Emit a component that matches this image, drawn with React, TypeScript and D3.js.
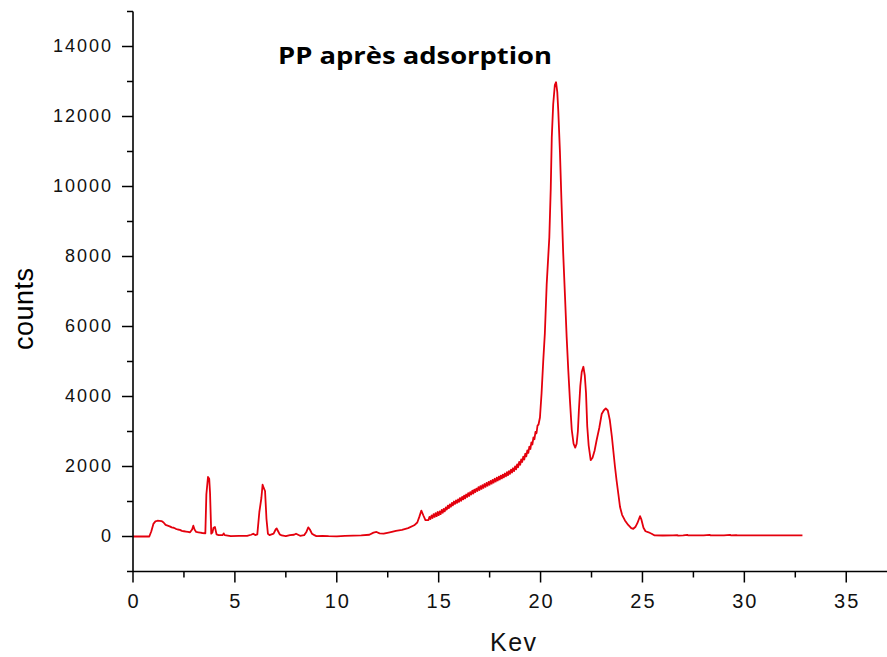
import React from "react";
import * as d3 from "d3";

const KEV = [
  0, 0.8, 0.9, 1.0, 1.1, 1.2, 1.3, 1.4, 1.5, 1.6, 1.7, 1.8, 1.9, 2.0, 2.1, 2.2, 2.3, 2.4, 2.5, 2.6, 2.7, 2.8,
  2.9, 2.96, 3.02, 3.1, 3.2, 3.3, 3.4, 3.55, 3.6, 3.68, 3.74, 3.78, 3.84, 3.9, 3.95, 4.02, 4.1, 4.2, 4.4, 4.45,
  4.5, 4.8, 5.2, 5.6, 5.8, 5.9, 6.0, 6.1, 6.2, 6.3, 6.36, 6.42, 6.48, 6.55, 6.62, 6.7, 6.9, 7.0, 7.05, 7.12,
  7.2, 7.3, 7.5, 7.7, 7.9, 8.0, 8.1, 8.2, 8.4, 8.5, 8.6, 8.68, 8.78, 8.9, 9.0, 9.3, 9.6, 10.0, 10.4, 10.8,
  11.2, 11.6, 11.8, 11.95, 12.1, 12.3, 12.6, 12.9, 13.2, 13.5, 13.8, 13.95, 14.05, 14.15, 14.25, 14.35,
  14.5, 14.55, 14.6, 14.65, 14.7, 14.75, 14.8, 14.85, 14.9, 14.95, 15.0, 15.05, 15.1, 15.15, 15.2, 15.25,
  15.3, 15.35, 15.4, 15.45, 15.5, 15.55, 15.6, 15.65, 15.7, 15.75, 15.8, 15.85, 15.9, 15.95, 16.0, 16.05,
  16.1, 16.15, 16.2, 16.25, 16.3, 16.35, 16.4, 16.45, 16.5, 16.55, 16.6, 16.65, 16.7, 16.75, 16.8, 16.85,
  16.9, 16.95, 17.0, 17.05, 17.1, 17.15, 17.2, 17.25, 17.3, 17.35, 17.4, 17.45, 17.5, 17.55, 17.6, 17.65,
  17.7, 17.75, 17.8, 17.85, 17.9, 17.95, 18.0, 18.05, 18.1, 18.15, 18.2, 18.25, 18.3, 18.35, 18.4, 18.45,
  18.5, 18.55, 18.6, 18.65, 18.7, 18.75, 18.8, 18.85, 18.9, 18.95, 19.0, 19.05, 19.1, 19.15, 19.2, 19.25,
  19.3, 19.35, 19.4, 19.45, 19.5, 19.55, 19.6, 19.65, 19.7, 19.75, 19.8, 19.85, 19.9,
  19.97, 20.05, 20.13, 20.21, 20.3, 20.43, 20.5, 20.55, 20.62, 20.7, 20.76, 20.82, 20.87, 20.95, 21.03,
  21.11, 21.2, 21.28, 21.36, 21.44, 21.53, 21.62, 21.7, 21.77, 21.83, 21.88, 21.95, 22.02, 22.1, 22.17, 22.23,
  22.29, 22.36, 22.46, 22.55, 22.65, 22.75, 22.88, 23.0, 23.1, 23.2, 23.3, 23.4, 23.5, 23.57, 23.65, 23.73,
  23.82, 23.9, 24.0, 24.14, 24.3, 24.45, 24.55, 24.65, 24.75, 24.88, 24.95, 25.05, 25.15, 25.3, 25.45, 25.6,
  26.0, 26.5, 26.7, 26.75, 27.0, 27.2, 27.25, 27.6, 28.0, 28.3, 28.35, 29.0, 29.3, 29.35, 29.6, 29.65, 30.5,
  31.5, 32.85,
];

const COUNTS = [
  0, 0, 150, 360, 430, 450, 445, 440, 400, 330, 310, 290, 260, 250, 220, 200, 190, 160, 150, 140, 130, 120,
  200, 310, 200, 130, 120, 110, 100, 90, 1200, 1700, 1650, 1250, 80, 120, 250, 270, 60, 40, 40, 90,
  40, 10, 20, 20, 50, 80, 40, 60, 700, 1100, 1480, 1380, 1300, 500, 80, 40, 80, 200, 230, 150,
  60, 30, 10, 40, 50, 80, 50, 20, 40, 120, 260, 200, 80, 40, 10, 20, 10, 5, 20, 25,
  30, 50, 110, 130, 90, 80, 120, 160, 190, 240, 320, 400, 560, 740, 600, 470,
  470, 560, 500, 600, 530, 640, 560, 670, 580, 700, 610, 720, 640, 760, 680, 790,
  720, 830, 770, 880, 810, 920, 850, 960, 890, 1000, 930, 1030, 960, 1060, 990, 1100,
  1020, 1130, 1060, 1170, 1090, 1200, 1130, 1240, 1160, 1270, 1200, 1310, 1230, 1340, 1270, 1370,
  1300, 1410, 1330, 1440, 1360, 1470, 1390, 1500, 1420, 1530, 1450, 1560, 1480, 1590, 1510, 1620,
  1540, 1650, 1570, 1680, 1600, 1710, 1630, 1740, 1660, 1770, 1690, 1800, 1720, 1840, 1750, 1870,
  1790, 1910, 1830, 1950, 1870, 2000, 1920, 2060, 1980, 2130, 2050, 2200, 2130, 2280, 2200, 2370,
  2290, 2460, 2390, 2570, 2500, 2690, 2630, 2830, 2780, 2990, 2950, 3170, 3200,
  3400, 4100, 5000, 5800, 7200, 8550, 9950, 11400, 12350, 12900, 12980, 12700, 12150, 11000, 9500,
  8100, 6850, 5700, 4750, 3900, 3050, 2650, 2540, 2650, 3000, 3600, 4300, 4700, 4850, 4600, 4100,
  3150, 2600, 2180, 2250, 2450, 2750, 3100, 3500, 3600, 3660, 3600, 3320, 2850, 2450, 2000, 1600,
  1200, 840, 620, 460, 330, 240, 220, 270, 380, 580, 480, 250, 150, 120, 80, 30,
  28, 30, 40, 25, 30, 45, 30, 30, 30, 45, 30, 35, 45, 30, 40, 30, 30,
  30, 30,
];

const X_MAJOR = [0, 5, 10, 15, 20, 25, 30, 35];
const X_MINOR = [2.5, 7.5, 12.5, 17.5, 22.5, 27.5, 32.5];
const Y_MAJOR = [0, 2000, 4000, 6000, 8000, 10000, 12000, 14000];
const Y_MINOR = [-1000, 1000, 3000, 5000, 7000, 9000, 11000, 13000, 15000];

const TITLE = "PP après adsorption";
const X_LABEL = "Kev";
const Y_LABEL = "counts";

export default function App() {
  const W = 887;
  const H = 657;
  const x = d3.scaleLinear().domain([0, 37]).range([133, 887]);
  const y = d3.scaleLinear().domain([-1000, 15000]).range([571.5, 11.5]);
  const pts = KEV.map((k, i) => [k, COUNTS[i]] as [number, number]);
  const line = d3
    .line<[number, number]>()
    .x((d) => x(d[0]))
    .y((d) => y(d[1]));
  const axisY = y(-1000);
  const axisX = x(0);
  const MAJ = 11;
  const MIN = 6;
  const font = "'Liberation Sans', Arial, sans-serif";
  return (
    <svg
      width={W}
      height={H}
      style={{ position: "absolute", left: 0, top: 0, background: "#fff" }}
    >
      <rect x={0} y={0} width={W} height={H} fill="#fff" />
      <path d={line(pts) || ""} fill="none" stroke="#e4000d" strokeWidth={1.8} strokeLinejoin="round" />
      {/* y axis */}
      <line x1={axisX} x2={axisX} y1={y(15000)} y2={axisY} stroke="#000" strokeWidth={1.6} />
      {Y_MAJOR.map((v) => (
        <g key={"ym" + v}>
          <line x1={axisX - MAJ} x2={axisX} y1={y(v)} y2={y(v)} stroke="#000" strokeWidth={1.5} />
          <text
            x={axisX - 20}
            y={y(v) + 5}
            textAnchor="end"
            fontFamily={font}
            fontSize={18}
            letterSpacing={2}
            fill="#111"
          >
            {v}
          </text>
        </g>
      ))}
      {Y_MINOR.map((v) => (
        <line key={"yn" + v} x1={axisX - MIN} x2={axisX} y1={y(v)} y2={y(v)} stroke="#000" strokeWidth={1.5} />
      ))}
      {/* x axis */}
      <line x1={axisX} x2={W} y1={axisY} y2={axisY} stroke="#000" strokeWidth={1.6} />
      {X_MAJOR.map((v) => (
        <g key={"xm" + v}>
          <line x1={x(v)} x2={x(v)} y1={axisY} y2={axisY + MAJ} stroke="#000" strokeWidth={1.5} />
          <text
            x={x(v) + 1}
            y={608}
            textAnchor="middle"
            fontFamily={font}
            fontSize={20}
            letterSpacing={2}
            fill="#111"
          >
            {v}
          </text>
        </g>
      ))}
      {X_MINOR.map((v) => (
        <line key={"xn" + v} x1={x(v)} x2={x(v)} y1={axisY} y2={axisY + MIN} stroke="#000" strokeWidth={1.5} />
      ))}
      {/* labels */}
      <text
        x={513}
        y={651}
        textAnchor="middle"
        fontFamily={font}
        fontSize={25}
        textLength={46}
        lengthAdjust="spacing"
        fill="#111"
      >
        {X_LABEL}
      </text>
      <text
        transform="translate(33,309) rotate(-90)"
        textAnchor="middle"
        fontFamily={font}
        fontSize={27}
        textLength={82}
        lengthAdjust="spacing"
        fill="#000"
      >
        {Y_LABEL}
      </text>
      <text
        x={278}
        y={64}
        fontFamily="'Open Sans', sans-serif"
        fontWeight={700}
        fontSize={24}
        textLength={274}
        lengthAdjust="spacingAndGlyphs"
        fill="#000"
      >
        {TITLE}
      </text>
    </svg>
  );
}
